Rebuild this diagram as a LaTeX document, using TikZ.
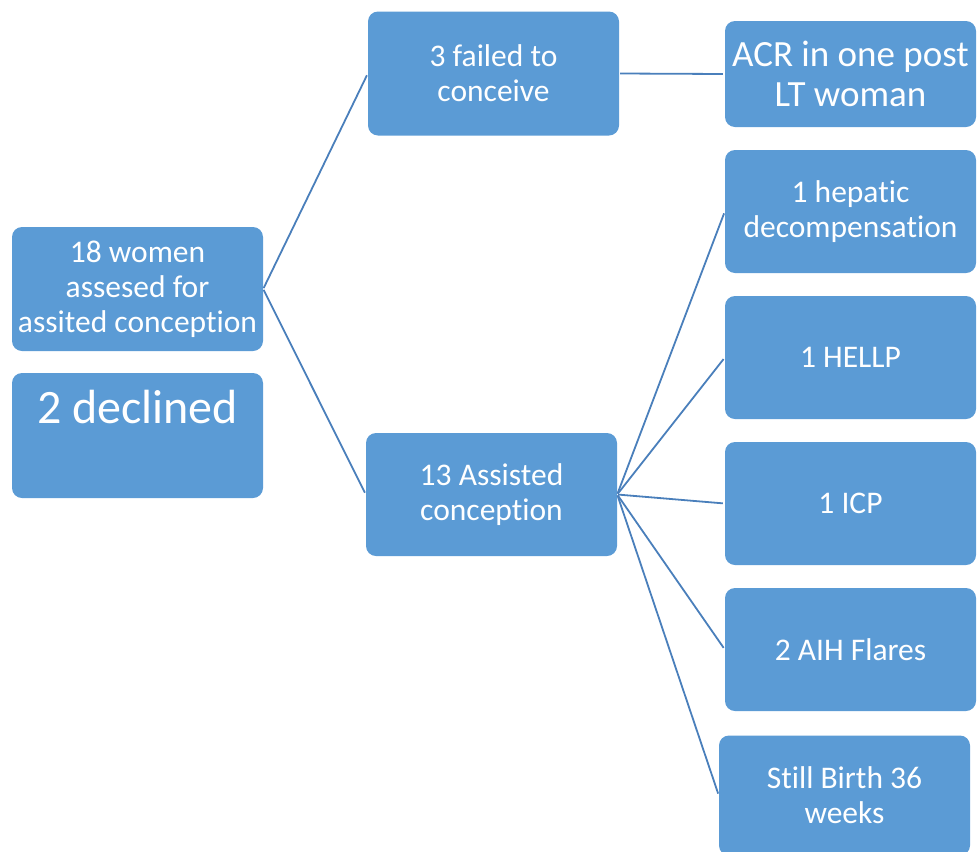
\documentclass[tikz,border=0pt]{standalone}
\usepackage{fontspec}
\setmainfont[Ligatures=NoCommon]{Carlito}
\definecolor{boxblue}{HTML}{5B9BD5}
\definecolor{linkblue}{HTML}{4A7FBB}
\begin{document}
\begin{tikzpicture}[x=1pt,y=-1pt,
  box/.style={fill=boxblue, draw=none, rounded corners=10pt, text=white,
    minimum width=251pt, minimum height=124pt, align=center, inner sep=2pt,
    font=\fontsize{31.5}{35}\selectfont},
  link/.style={draw=linkblue, line width=1.8pt, shorten <=1pt, shorten >=2pt}]
\useasboundingbox (0,0) rectangle (978,852);
\node[box] (A) at (137.5,289) {18 women\\assesed for\\assited conception};
\node[box, minimum height=125pt, inner ysep=0pt, text height=50pt, text depth=75pt,
  font=\fontsize{48}{56}\selectfont] (B) at (137.5,435.5) {2 declined};
\node[box] (C) at (493.5,73.5) {3 failed to\\conceive};
\node[box, minimum height=106pt, font=\fontsize{37}{40}\selectfont] (D) at (850.5,74) {ACR in one post\\LT woman};
\node[box, minimum height=123pt] (J) at (491.5,494.5) {13 Assisted\\conception};
\node[box, minimum height=123pt] (E) at (850.5,211.5) {1 hepatic\\decompensation};
\node[box, minimum height=123pt] (F) at (850.5,357.5) {1 HELLP};
\node[box, minimum height=123pt] (G) at (850.5,503.5) {1 ICP};
\node[box, minimum height=123pt] (H) at (850.5,649.5) {2 AIH Flares};
\node[box, minimum height=120pt] (I) at (844.5,795.5) {Still Birth 36\\weeks};
\draw[link] (A.east) -- (C.west);
\draw[link] (A.east) -- (J.west);
\draw[link] (C.east) -- (D.west);
\foreach \t in {E,F,G,H,I} \draw[link] (J.east) -- (\t.west);
\end{tikzpicture}
\end{document}
